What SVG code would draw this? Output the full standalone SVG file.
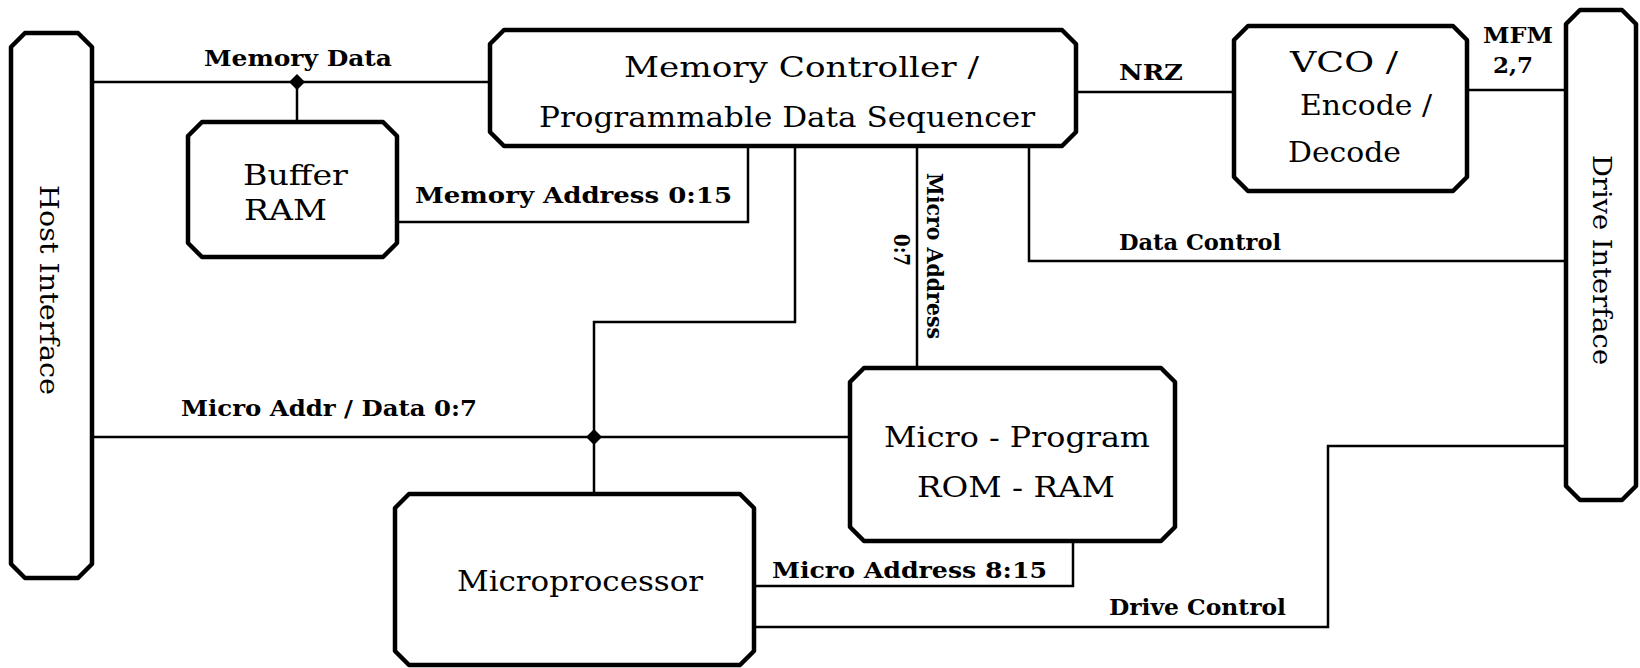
<svg xmlns="http://www.w3.org/2000/svg" width="1640" height="668" viewBox="0 0 1640 668">
<style>
  .box { fill: #fff; stroke: #000; stroke-width: 4.5; stroke-linejoin: round; }
  .wire { fill: none; stroke: #000; stroke-width: 2.5; stroke-linejoin: miter; }
  .dot { fill: #000; }
  .t { font-family: "DejaVu Serif", "Liberation Serif", serif; font-size: 28px; fill: #000; }
  .r { font-family: "DejaVu Serif", "Liberation Serif", serif; font-size: 26px; fill: #000; text-anchor: middle; }
  .l { font-family: "DejaVu Serif Condensed", "DejaVu Serif", serif; font-weight: bold; font-size: 22px; fill: #000; }
  .lm { font-family: "DejaVu Serif Condensed", "DejaVu Serif", serif; font-weight: bold; font-size: 22px; fill: #000; text-anchor: middle; }
</style>
<rect width="1640" height="668" fill="#fff"/>

<g id="connectors">
  <path class="wire" d="M92,82 H490"/>
  <path class="wire" d="M297,82 V122"/>
  <path class="wire" d="M397,222 H748 V146"/>
  <path class="wire" d="M1076,92 H1234"/>
  <path class="wire" d="M1467,90 H1566"/>
  <path class="wire" d="M1029,146 V261 H1566"/>
  <path class="wire" d="M917,146 V368"/>
  <path class="wire" d="M795,146 V322 H594 V494"/>
  <path class="wire" d="M92,437 H850"/>
  <path class="wire" d="M754,586 H1073 V541"/>
  <path class="wire" d="M754,627 H1328 V446 H1566"/>
  <path class="dot" d="M297,74 L305,82 L297,90 L289,82 Z"/>
  <path class="dot" d="M594,429 L602,437 L594,445 L586,437 Z"/>
  <text class="l" x="204" y="66" textLength="188" lengthAdjust="spacingAndGlyphs">Memory Data</text>
  <text class="l" x="415" y="203" textLength="317" lengthAdjust="spacingAndGlyphs">Memory Address 0:15</text>
  <text class="l" x="1119" y="80" textLength="64" lengthAdjust="spacingAndGlyphs">NRZ</text>
  <text class="l" x="1483" y="43" textLength="70" lengthAdjust="spacingAndGlyphs">MFM</text>
  <text class="l" x="1493" y="73" textLength="40" lengthAdjust="spacingAndGlyphs">2,7</text>
  <text class="l" x="1119" y="250" textLength="162" lengthAdjust="spacingAndGlyphs">Data Control</text>
  <text class="l" x="181" y="416" textLength="296" lengthAdjust="spacingAndGlyphs">Micro Addr / Data 0:7</text>
  <text class="l" x="772" y="578" textLength="275" lengthAdjust="spacingAndGlyphs">Micro Address 8:15</text>
  <text class="l" x="1109" y="615" textLength="177" lengthAdjust="spacingAndGlyphs">Drive Control</text>
  <text class="lm" transform="translate(927,256) rotate(90)" textLength="166" lengthAdjust="spacingAndGlyphs">Micro Address</text>
  <text class="lm" transform="translate(894,250) rotate(90)" textLength="32" lengthAdjust="spacingAndGlyphs">0:7</text>
</g>

<g id="host">
  <path class="box" d="M25,33 H78 L92,47 V564 L78,578 H25 L11,564 V47 Z"/>
  <text class="r" transform="translate(40,290) rotate(90)" textLength="210" lengthAdjust="spacingAndGlyphs">Host Interface</text>
</g>

<g id="buffer">
  <path class="box" d="M202,122 H383 L397,136 V243 L383,257 H202 L188,243 V136 Z"/>
  <text class="t" x="243" y="185" textLength="105" lengthAdjust="spacingAndGlyphs">Buffer</text>
  <text class="t" x="244" y="220" textLength="83" lengthAdjust="spacingAndGlyphs">RAM</text>
</g>

<g id="memctrl">
  <path class="box" d="M504,30 H1062 L1076,44 V132 L1062,146 H504 L490,132 V44 Z"/>
  <text class="t" x="624" y="77" textLength="355" lengthAdjust="spacingAndGlyphs">Memory Controller  /</text>
  <text class="t" x="539" y="127" textLength="496" lengthAdjust="spacingAndGlyphs">Programmable Data Sequencer</text>
</g>

<g id="vco">
  <path class="box" d="M1248,26 H1453 L1467,40 V177 L1453,191 H1248 L1234,177 V40 Z"/>
  <text class="t" x="1290" y="72" textLength="108" lengthAdjust="spacingAndGlyphs">VCO /</text>
  <text class="t" x="1300" y="115" textLength="132" lengthAdjust="spacingAndGlyphs">Encode  /</text>
  <text class="t" x="1288" y="162" textLength="113" lengthAdjust="spacingAndGlyphs">Decode</text>
</g>

<g id="drive">
  <path class="box" d="M1580,10 H1622 L1636,24 V486 L1622,500 H1580 L1566,486 V24 Z"/>
  <text class="r" transform="translate(1593,260) rotate(90)" textLength="210" lengthAdjust="spacingAndGlyphs">Drive Interface</text>
</g>

<g id="microprogram">
  <path class="box" d="M864,368 H1161 L1175,382 V527 L1161,541 H864 L850,527 V382 Z"/>
  <text class="t" x="884" y="447" textLength="266" lengthAdjust="spacingAndGlyphs">Micro - Program</text>
  <text class="t" x="917" y="497" textLength="198" lengthAdjust="spacingAndGlyphs">ROM - RAM</text>
</g>

<g id="microprocessor">
  <path class="box" d="M409,494 H740 L754,508 V651 L740,665 H409 L395,651 V508 Z"/>
  <text class="t" x="457" y="591" textLength="246" lengthAdjust="spacingAndGlyphs">Microprocessor</text>
</g>
</svg>
